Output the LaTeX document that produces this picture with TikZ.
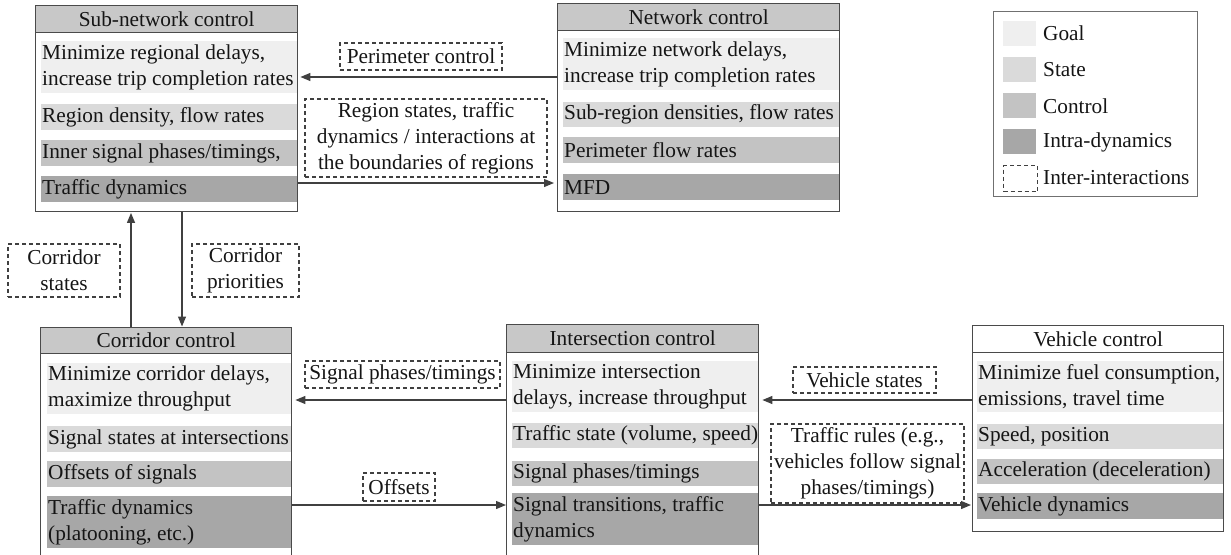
\documentclass[tikz,border=0pt]{standalone}
\usepackage{fontspec}
\setmainfont{Liberation Serif}
\usetikzlibrary{arrows.meta}
\definecolor{goalc}{HTML}{EFEFEF}
\definecolor{statec}{HTML}{DADADA}
\definecolor{ctrlc}{HTML}{C3C3C3}
\definecolor{intrac}{HTML}{A7A7A7}
\definecolor{hdrc}{HTML}{C8C8C8}
\definecolor{bord}{HTML}{4A4A4A}
\definecolor{arrc}{HTML}{404040}
\definecolor{dashc}{HTML}{404040}
\definecolor{legc}{HTML}{707070}
\definecolor{txt}{HTML}{151515}
\tikzset{
  every node/.style={font=\fontsize{21.3}{26}\selectfont, text=txt},
  ctlbox/.style={draw=bord, line width=1.4pt, fill=white, anchor=north west, inner sep=0pt},
  hdr/.style={draw=bord, line width=1.4pt, fill=hdrc, anchor=north west, inner sep=0pt},
  bandbox/.style={anchor=north west, inner sep=0pt},
  btxt/.style={anchor=west, align=left, inner xsep=1pt, inner ysep=0pt},
  lbl/.style={draw=dashc, dash pattern=on 4pt off 3pt, line width=1.1pt, inner sep=0pt, align=center},
  arr/.style={draw=arrc, line width=1.2pt, -{Triangle[length=10pt,width=8pt]}},
  sw/.style={anchor=north west, minimum width=33pt, minimum height=25pt, inner sep=0pt},
  ltxt/.style={anchor=west, inner sep=0pt},
}
\begin{document}
\begin{tikzpicture}[x=1pt,y=-1pt]
\useasboundingbox (0,0) rectangle (1231,554);
\clip (0,0) rectangle (1231,554);

% ---------- Sub-network control ----------
\node[ctlbox, minimum width=262pt, minimum height=206pt] (sub) at (35,5) {};
\node[bandbox, fill=goalc, minimum width=256pt, minimum height=52pt] (sg) at (41,41) {};
\node[bandbox, fill=statec, minimum width=256pt, minimum height=26pt] (ss) at (41,104) {};
\node[bandbox, fill=ctrlc, minimum width=256pt, minimum height=26pt] (sc) at (41,140) {};
\node[bandbox, fill=intrac, minimum width=256pt, minimum height=26pt] (si) at (41,176) {};
\node[btxt] (sgt) at (sg.west) {Minimize regional delays,\\increase trip completion rates};
\node[btxt] (sst) at (ss.west) {Region density, flow rates};
\node[btxt] (sct) at (sc.west) {Inner signal phases/timings,};
\node[btxt] (sit) at (si.west) {Traffic dynamics};
\node[hdr, minimum width=262pt, minimum height=27pt] (subh) at (35,5) {Sub-network control};

% ---------- Network control ----------
\node[ctlbox, minimum width=282pt, minimum height=208pt] (net) at (557,3) {};
\node[bandbox, fill=goalc, minimum width=276pt, minimum height=52pt] (ng) at (563,38) {};
\node[bandbox, fill=statec, minimum width=276pt, minimum height=25pt] (ns) at (563,102) {};
\node[bandbox, fill=ctrlc, minimum width=276pt, minimum height=26pt] (nc) at (563,137) {};
\node[bandbox, fill=intrac, minimum width=276pt, minimum height=26pt] (ni) at (563,174) {};
\node[btxt] (ngt) at (ng.west) {Minimize network delays,\\increase trip completion rates};
\node[btxt] (nst) at (ns.west) {Sub-region densities, flow rates};
\node[btxt] (nct) at (nc.west) {Perimeter flow rates};
\node[btxt] (nit) at (ni.west) {MFD};
\node[hdr, minimum width=282pt, minimum height=27pt] (neth) at (557,3) {Network control};

% ---------- Corridor control ----------
\node[ctlbox, minimum width=251pt, minimum height=250pt] (cor) at (40,327) {};
\node[bandbox, fill=goalc, minimum width=244pt, minimum height=51pt] (cg) at (47,363) {};
\node[bandbox, fill=statec, minimum width=244pt, minimum height=26pt] (cs) at (47,426) {};
\node[bandbox, fill=ctrlc, minimum width=244pt, minimum height=26pt] (cc) at (47,461) {};
\node[bandbox, fill=intrac, minimum width=244pt, minimum height=52pt] (ci) at (47,496) {};
\node[btxt] (cgt) at (cg.west) {Minimize corridor delays,\\maximize throughput};
\node[btxt] (cst) at (cs.west) {Signal states at intersections};
\node[btxt] (cct) at (cc.west) {Offsets of signals};
\node[btxt] (cit) at (ci.west) {Traffic dynamics\\(platooning, etc.)};
\node[hdr, minimum width=251pt, minimum height=26pt] (corh) at (40,327) {Corridor control};

% ---------- Intersection control ----------
\node[ctlbox, minimum width=252pt, minimum height=253pt] (int) at (506,324) {};
\node[bandbox, fill=goalc, minimum width=246pt, minimum height=51pt] (ig) at (512,361) {};
\node[bandbox, fill=statec, minimum width=246pt, minimum height=25pt] (is) at (512,423) {};
\node[bandbox, fill=ctrlc, minimum width=246pt, minimum height=25pt] (ic) at (512,461) {};
\node[bandbox, fill=intrac, minimum width=246pt, minimum height=52pt] (ii) at (512,493) {};
\node[btxt] (igt) at (ig.west) {Minimize intersection\\delays, increase throughput};
\node[btxt] (ist) at (is.west) {Traffic state (volume, speed)};
\node[btxt] (ict) at (ic.west) {Signal phases/timings};
\node[btxt] (iit) at (ii.west) {Signal transitions, traffic\\dynamics};
\node[hdr, minimum width=252pt, minimum height=28pt] (inth) at (506,324) {Intersection control};

% ---------- Vehicle control ----------
\node[ctlbox, minimum width=251pt, minimum height=206pt] (veh) at (972,325) {};
\node[bandbox, fill=goalc, minimum width=246pt, minimum height=51pt] (vg) at (977,361) {};
\node[bandbox, fill=statec, minimum width=246pt, minimum height=25pt] (vs) at (977,424) {};
\node[bandbox, fill=ctrlc, minimum width=246pt, minimum height=25pt] (vc) at (977,459) {};
\node[bandbox, fill=intrac, minimum width=246pt, minimum height=26pt] (vi) at (977,493) {};
\node[btxt] (vgt) at (vg.west) {Minimize fuel consumption,\\emissions, travel time};
\node[btxt] (vst) at (vs.west) {Speed, position};
\node[btxt] (vct) at (vc.west) {Acceleration (deceleration)};
\node[btxt] (vit) at (vi.west) {Vehicle dynamics};
\node[hdr, fill=white, minimum width=251pt, minimum height=27pt] (vehh) at (972,325) {Vehicle control};

% ---------- Inter-interaction labels ----------
\node[lbl, minimum width=162pt, minimum height=27pt] (lper) at (421,56.5) {Perimeter control};
\node[lbl, minimum width=242pt, minimum height=78pt] (lreg) at (426,138) {Region states, traffic\\dynamics / interactions at\\the boundaries of regions};
\node[lbl, minimum width=112pt, minimum height=53pt] (lcs) at (64,270.5) {Corridor\\states};
\node[lbl, minimum width=107pt, minimum height=53pt] (lcp) at (245.5,270.5) {Corridor\\priorities};
\node[lbl, minimum width=195pt, minimum height=27pt] (lsp) at (402.5,374.5) {Signal phases/timings};
\node[lbl, minimum width=72pt, minimum height=28pt] (loff) at (399,487) {Offsets};
\node[lbl, minimum width=143pt, minimum height=26pt] (lvs) at (864.5,380) {Vehicle states};
\node[lbl, minimum width=193pt, minimum height=79pt] (ltr) at (867.5,463.5) {Traffic rules (e.g.,\\vehicles follow signal\\phases/timings)};

% ---------- Connectors ----------
\draw[arr, shorten >=2pt] (net.west |- 0,77) -- (sub.east |- 0,77);
\draw[arr, shorten >=3pt] (sub.east |- 0,183) -- (net.west |- 0,183);
\draw[arr, shorten >=0.5pt] (corh.north -| 131,0) -- (sub.south -| 131,0);
\draw[arr, shorten >=0.5pt] (sub.south -| 182,0) -- (corh.north -| 182,0);
\draw[arr, shorten >=3pt] (int.west |- 0,400) -- (cor.east |- 0,400);
\draw[arr] (cor.east |- 0,505) -- (int.west |- 0,505);
\draw[arr, shorten >=3pt] (veh.west |- 0,400) -- (int.east |- 0,400);
\draw[arr, shorten >=1pt] (int.east |- 0,505) -- (veh.west |- 0,505);

% ---------- Legend ----------
\node[draw=legc, line width=1.2pt, anchor=north west, minimum width=204pt, minimum height=185pt, inner sep=0pt] (leg) at (993,11) {};
\node[sw, fill=goalc] (swg) at (1003,21) {};
\node[sw, fill=statec] (sws) at (1003,57) {};
\node[sw, fill=ctrlc] (swc) at (1003,93) {};
\node[sw, fill=intrac] (swi) at (1003,129) {};
\node[sw, draw=dashc, dash pattern=on 4pt off 3pt, line width=1.1pt, minimum width=34pt, minimum height=26pt] (swd) at (1003,165) {};
\node[ltxt] (tg) at (1043,33.5) {Goal};
\node[ltxt] (ts) at (1043,69.5) {State};
\node[ltxt] (tc) at (1043,106) {Control};
\node[ltxt] (ti) at (1043,142) {Intra-dynamics};
\node[ltxt] (td) at (1043,178) {Inter-interactions};
\end{tikzpicture}
\end{document}
